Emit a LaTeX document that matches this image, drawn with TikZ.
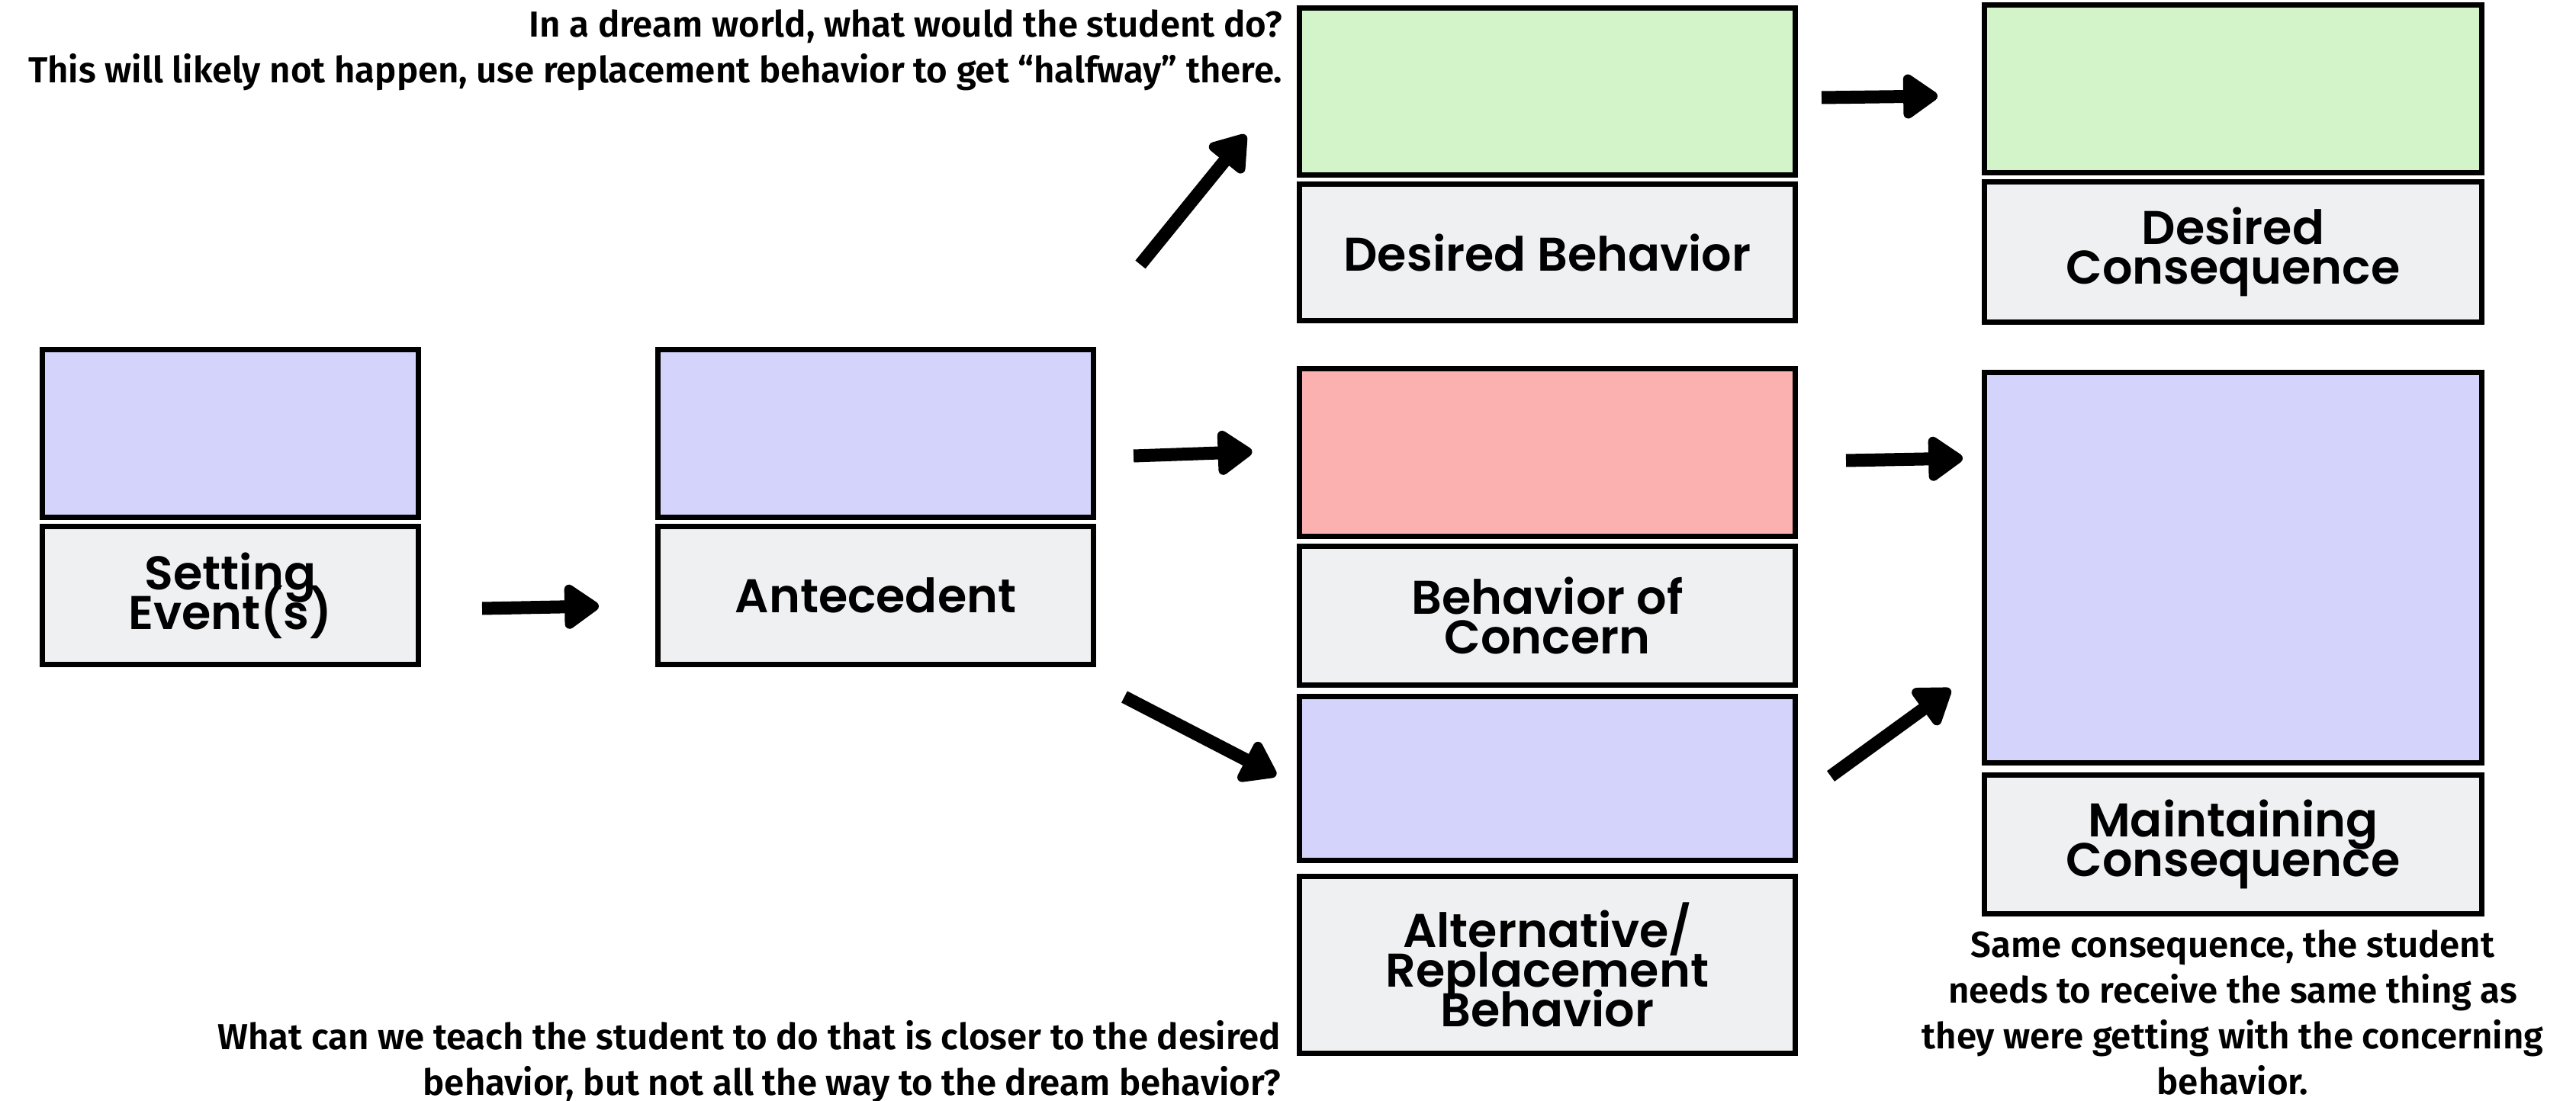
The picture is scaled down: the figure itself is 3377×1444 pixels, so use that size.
\documentclass[tikz,border=0pt]{standalone}
\usepackage{fontspec}
\usetikzlibrary{arrows.meta,calc}
\newfontfamily\labfont{Poppins SemiBold}
\newfontfamily\annfont{Fira Sans SemiBold}
\definecolor{bluefill}{HTML}{D3D3FC}
\definecolor{greenfill}{HTML}{D3F4C8}
\definecolor{redfill}{HTML}{FCB1B1}
\definecolor{greyfill}{HTML}{EFF0F2}
\setlength{\lineskiplimit}{-100pt}
\begin{document}
\begin{tikzpicture}[x=0.25pt,y=-0.25pt,
  box/.style={draw=black, line width=1.6pt, inner sep=0pt, outer sep=0pt, anchor=north west},
  labbox/.style={box, fill=greyfill, align=center,
    font=\labfont\fontsize{15.5}{13}\selectfont},
  arr/.style={line width=4.25pt, -{Triangle[length=12.5pt,width=16.5pt,round]}},
  ann/.style={inner sep=0pt, font=\annfont\fontsize{11.85}{15}\selectfont}]
\useasboundingbox (0,0) rectangle (3377,1444);
% Setting events
\node[box, fill=bluefill, minimum width={493*0.25pt}, minimum height={220*0.25pt}] (sett) at (55.5,458.5) {};
\node[labbox, minimum width={493*0.25pt}, minimum height={181*0.25pt}] (setl) at (55.5,690.5) {Setting\\Event(s)};
% Antecedent
\node[box, fill=bluefill, minimum width={571*0.25pt}, minimum height={220*0.25pt}] (ant) at (862.5,458.5) {};
\node[labbox, minimum width={571*0.25pt}, minimum height={181*0.25pt}] (anl) at (862.5,690.5) {Antecedent};
% Desired behavior
\node[box, fill=greenfill, minimum width={650*0.25pt}, minimum height={219*0.25pt}] (dbt) at (1703.5,10.5) {};
\node[labbox, minimum width={650*0.25pt}, minimum height={179*0.25pt}] (dbl) at (1703.5,241.5) {Desired Behavior};
% Desired consequence
\node[box, fill=greenfill, minimum width={652*0.25pt}, minimum height={220*0.25pt}] (dct) at (2601.5,6.5) {};
\node[labbox, minimum width={652*0.25pt}, minimum height={184*0.25pt}] (dcl) at (2601.5,238.5) {Desired\\Consequence};
% Behavior of concern
\node[box, fill=redfill, minimum width={650*0.25pt}, minimum height={220*0.25pt}] (boct) at (1703.5,483.5) {};
\node[labbox, minimum width={650*0.25pt}, minimum height={182*0.25pt}] (bocl) at (1703.5,716.5) {Behavior of\\Concern};
% Alternative
\node[box, fill=bluefill, minimum width={650*0.25pt}, minimum height={215*0.25pt}] (altt) at (1703.5,913.5) {};
\node[labbox, minimum width={650*0.25pt}, minimum height={232*0.25pt}] (altl) at (1703.5,1149.5) {Alternative/\\Replacement\\Behavior};
% Maintaining consequence
\node[box, fill=bluefill, minimum width={652*0.25pt}, minimum height={512*0.25pt}] (mct) at (2601.5,488.5) {};
\node[labbox, minimum width={652*0.25pt}, minimum height={182*0.25pt}] (mcl) at (2601.5,1016.5) {Maintaining\\Consequence};
% arrows
\draw[arr] ($(setl.east)+(83.5,17)$) -- ($(anl.west)+(-77.5,14)$);
\draw[arr] ($(ant.north east)+(61.5,-111.5)$) -- ($(dbt.south west)+(-70.5,-52.5)$);
\draw[arr] ($(ant.east)+(52.5,29.5)$) -- ($(boct.west)+(-62,-1)$);
\draw[arr] ($(anl.south east)+(40.5,42.5)$) -- ($(altt.west)+(-30.5,-4)$);
\draw[arr] ($(dbt.east)+(34.5,8)$) -- ($(dct.west)+(-61.5,9.5)$);
\draw[arr] ($(boct.east)+(66.5,10.5)$) -- ($(mct.west)+(-28.5,-143.5)$);
\draw[arr] ($(altt.east)+(46.5,-3)$) -- ($(mct.west)+(-44.5,159.5)$);
% annotations
\node[ann, anchor=north east, align=right] (antop) at (1682,12) {In a dream world, what would the student do?\\This will likely not happen, use replacement behavior to get “halfway” there.};
\node[ann, anchor=north east, align=right] (anbl) at (1680,1338) {What can we teach the student to do that is closer to the desired\\behavior, but not all the way to the dream behavior?};
\node[ann, anchor=north, align=center] (anbr) at (2927,1219) {Same consequence, the student\\needs to receive the same thing as\\they were getting with the concerning\\behavior.};
\end{tikzpicture}
\end{document}
